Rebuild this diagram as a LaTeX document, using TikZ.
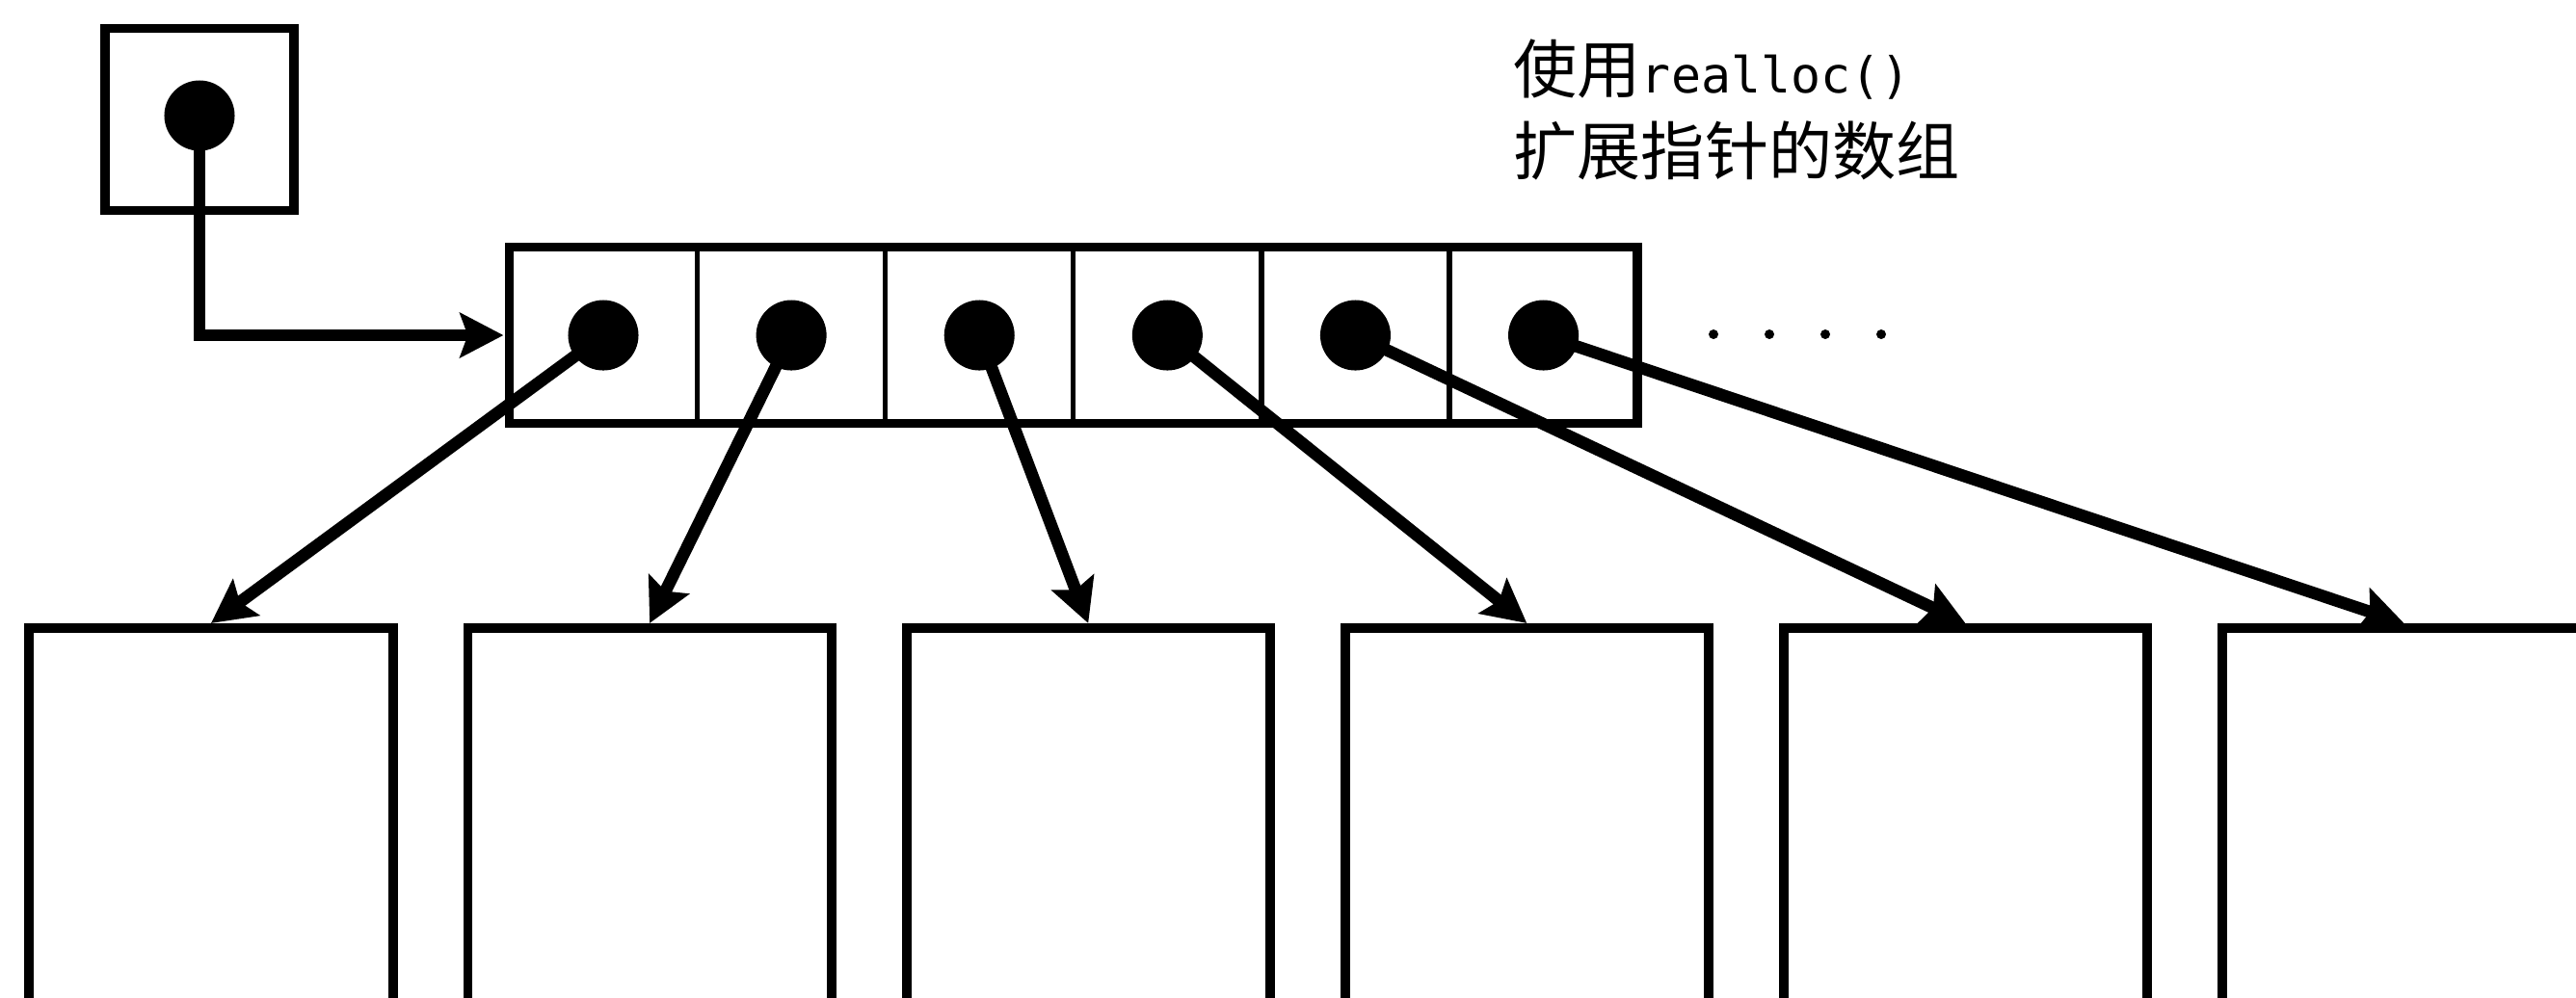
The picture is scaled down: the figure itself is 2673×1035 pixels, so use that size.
\documentclass[tikz,border=0pt]{standalone}
\usepackage{fontspec}
\setmainfont{Noto Sans CJK SC}
\setmonofont{DejaVu Sans Mono}[Scale=0.78]
\usetikzlibrary{arrows.meta,positioning}

\begin{document}
\begin{tikzpicture}[x=0.01cm,y=-0.01cm,
  slot/.style={draw,line width=1.5pt,minimum width=1.95cm,minimum height=1.83cm,inner sep=0pt,outer sep=0pt},
  ptr/.style={circle,fill=black,minimum size=0.73cm,inner sep=0pt},
  block/.style={draw,line width=2.8pt,minimum width=3.77cm,minimum height=4.6cm,inner sep=0pt,outer sep=1.4pt},
  link/.style={line width=3.6pt,-{Stealth[length=0.45cm,width=0.46cm,inset=0.08cm]}}]
\useasboundingbox (0,0) rectangle (2673,1035);
\clip (0,0) rectangle (2673,1035);
% single pointer
\node[slot,line width=2.8pt,minimum width=1.96cm,minimum height=1.89cm] (head) at (207,124) {};
\node[ptr] (h) at (207,120) {};
% array of pointers
\node[slot] (c1) at (626,348) {};
\foreach \i [count=\j from 1] in {2,...,6}
  \node[slot,right=0pt of c\j] (c\i) {};
\draw[line width=2.8pt] (c1.north west) rectangle (c6.south east);
\foreach \i in {1,...,6}
  \node[ptr] (p\i) at (c\i) {};
\foreach \k in {0,...,3}
  \fill (1778+58*\k,347) circle (5);
% blocks
\node[block] (b1) at (219,882) {};
\foreach \i [count=\j from 1] in {2,...,6}
  \node[block,right=0.68cm of b\j] (b\i) {};
\draw[link] (h.center) |- ([xshift=-0.06cm]c1.west);
\foreach \i in {1,...,6}
  \draw[link] (p\i.center) -- (b\i.north);
\node[anchor=north west,inner sep=0pt,align=left,
  font=\fontsize{18.8pt}{24.2pt}\selectfont] (note) at (1570,40)
  {使用\texttt{realloc()}\\扩展指针的数组};
\end{tikzpicture}
\end{document}
